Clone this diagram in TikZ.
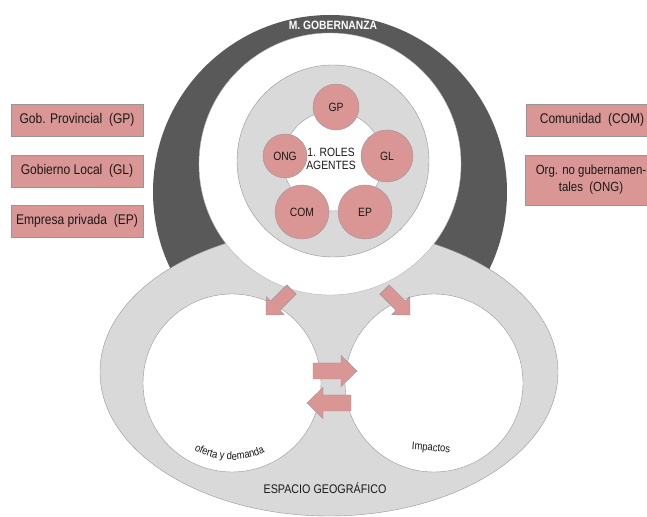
\documentclass[tikz,border=0pt]{standalone}
\usepackage{fontspec}
\setmainfont{Liberation Sans}[FakeStretch=0.86]
\definecolor{govdark}{RGB}{89, 89, 89}
\definecolor{geogray}{RGB}{217, 217, 217}
\definecolor{agentpink}{RGB}{217, 150, 148}
\definecolor{edgegray}{RGB}{150, 150, 150}
\definecolor{textdark}{RGB}{25, 25, 25}
\usetikzlibrary{decorations.text}

\begin{document}
\begin{tikzpicture}[x=1pt, y=1pt,
  agent/.style={draw=edgegray, fill=agentpink, circle, inner sep=0pt, font=\fontsize{12}{14}\selectfont, text=textdark},
  actorbox/.style={draw=edgegray, fill=agentpink, minimum width=132pt, minimum height=32pt, inner sep=2pt, align=center, font=\fontsize{14}{17}\selectfont, text=textdark},
  blockarrow/.pic={\draw[edgegray, fill=agentpink] (0,-8) -- (28,-8) -- (28,-15.5) -- (44,0) -- (28,15.5) -- (28,8) -- (0,8) -- cycle;}
]
  \useasboundingbox (0,0) rectangle (647,516);

  % ===== Governance =====
  \fill[govdark] (330,324) circle (177);

  % ===== Geographic space =====
  \draw[edgegray, fill=geogray] (329,144) ellipse (229 and 144);
  \draw[edgegray!70, fill=white] (330,352) circle (131);
  \draw[edgegray, fill=white] (232,133) circle (89);
  \draw[edgegray, fill=white] (434,133) circle (89);

  % ===== Agents =====
  \draw[edgegray, fill=geogray] (333,355) circle (96);
  \draw[edgegray, fill=white] (333,355) circle (50);
  \node[agent, minimum size=46pt] (gp) at (336,409) {GP};
  \node[agent, minimum size=52pt] (gl) at (387,360) {GL};
  \node[agent, minimum size=54pt] (ep) at (365,304) {EP};
  \node[agent, minimum size=54pt] (com) at (302,304) {COM};
  \node[agent, minimum size=44pt] (ong) at (285,360) {ONG};
  \node[align=center, font=\fontsize{12}{13}\selectfont, text=textdark] (roles) at (331,357) {1. ROLES\\AGENTES};

  % Actors
  \node[actorbox] (gpbox) at (77,396) {Gob. Provincial\ \ (GP)};
  \node[actorbox] (glbox) at (77,345) {Gobierno Local\ \ (GL)};
  \node[actorbox] (epbox) at (77,295) {Empresa privada\ \ (EP)};
  \node[actorbox] (combox) at (592,396) {Comunidad\ \ (COM)};
  \node[actorbox, minimum height=50pt, font=\fontsize{13.3}{17}\selectfont] (ongbox) at (591,336) {Org. no gubernamen-\\tales\ \ (ONG)};

  % ===== Arrows =====
  \pic[rotate=225, scale=0.82] at (291.5,226.5) {blockarrow};
  \pic[rotate=-45, scale=0.82] at (384.5,226.5) {blockarrow};
  \pic at (313,145) {blockarrow};
  \pic[rotate=180] at (351,113) {blockarrow};

  % Labels
  \node[font=\fontsize{12}{14}\selectfont\bfseries, text=white] (gob) at (333,491) {M. GOBERNANZA};
  \path[decorate, decoration={text along path, text align=center, text color=textdark,
    text={|\fontsize{11}{12}\selectfont|oferta y demanda}}] (232,133) ++(228:77) arc[start angle=228, end angle=308, radius=77];
  \node[font=\fontsize{11}{12}\selectfont, text=textdark, rotate=-5] (impact) at (431,67.5) {Impactos};
  \node[font=\fontsize{12.5}{14}\selectfont, text=textdark] (espacio) at (325,27.5) {ESPACIO GEOGRÁFICO};
\end{tikzpicture}
\end{document}
